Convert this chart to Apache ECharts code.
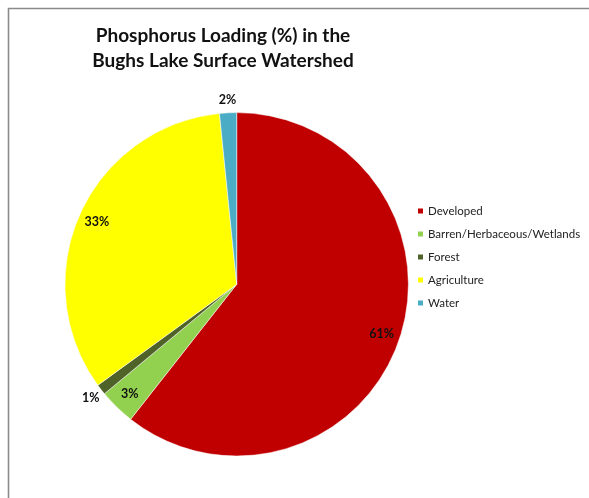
<!DOCTYPE html>
<html>
<head>
<meta charset="utf-8">
<script src="https://cdn.jsdelivr.net/npm/echarts@6/dist/echarts.min.js"></script>
<style>
html,body{margin:0;padding:0;background:#fff;}
#chart{width:589px;height:498px;}
</style>
</head>
<body>
<div id="chart"></div>
<script>
// ---- data ----
var categories = ['Developed', 'Barren/Herbaceous/Wetlands', 'Forest', 'Agriculture', 'Water'];
var values = [60.6, 3.4, 1.0, 33.4, 1.6];
var colors = ['#C00000', '#92D050', '#4F6228', '#FFFF00', '#4BACC6'];
var labelOutside = [false, false, true, false, true];
var titleLines = ['Phosphorus Loading (%) in the', 'Bughs Lake Surface Watershed'];

// ---- layout ----
var CX = 236.7, CY = 284.3, R = 171.7;
var FONT = 'Lato, "Open Sans", sans-serif';

function pieData(mode) {
  return categories.map(function (name, i) {
    var item = { name: name, value: values[i], itemStyle: { color: colors[i] } };
    if (mode === 'main') {
      item.label = { show: false };
    } else {
      var wantOutside = mode === 'outer';
      item.itemStyle = { color: 'rgba(0,0,0,0)' };
      item.label = { show: labelOutside[i] === wantOutside };
    }
    return item;
  });
}

function pctLabel(p) { return Math.round(p.percent) + '%'; }

var labelStyle = {
  position: 'inside',
  formatter: pctLabel,
  color: '#111',
  fontFamily: FONT,
  fontWeight: 'bold',
  fontSize: 12.5
};

var chart = echarts.init(document.getElementById('chart'), null, { renderer: 'canvas' });
chart.setOption({
  backgroundColor: '#fff',
  animation: false,
  title: {
    text: titleLines.join('\n'),
    left: 223,
    top: 23,
    textAlign: 'center',
    padding: 0,
    textStyle: {
      fontFamily: FONT,
      fontWeight: 'bold',
      fontSize: 19,
      lineHeight: 25,
      color: '#111'
    }
  },
  legend: {
    orient: 'vertical',
    left: 416,
    top: 204,
    padding: 0,
    itemWidth: 7,
    itemHeight: 7,
    itemGap: 9,
    icon: 'rect',
    data: categories,
    textStyle: { fontFamily: FONT, fontSize: 11.5, color: '#222', lineHeight: 14, padding: [0, 0, 0, -1] }
  },
  graphic: [{
    type: 'rect',
    silent: true,
    shape: { x: 8.5, y: 8.5, width: 1000, height: 1000 },
    style: { fill: 'none', stroke: '#8a8a8a', lineWidth: 1.6 }
  }],
  series: [
    {
      type: 'pie',
      center: [CX, CY],
      radius: [0, R],
      startAngle: 90,
      clockwise: true,
      silent: true,
      label: { show: false },
      labelLine: { show: false },
      itemStyle: { borderColor: '#fff', borderWidth: 0.5 },
      data: pieData('main')
    },
    {
      type: 'pie',
      center: [CX, CY],
      radius: [R * 0.75, R],
      startAngle: 90,
      clockwise: true,
      silent: true,
      label: labelStyle,
      labelLine: { show: false },
      data: pieData('inner')
    },
    {
      type: 'pie',
      center: [CX, CY],
      radius: [R, R + 20],
      startAngle: 90,
      clockwise: true,
      silent: true,
      label: labelStyle,
      labelLine: { show: false },
      data: pieData('outer')
    }
  ]
});
</script>
</body>
</html>
